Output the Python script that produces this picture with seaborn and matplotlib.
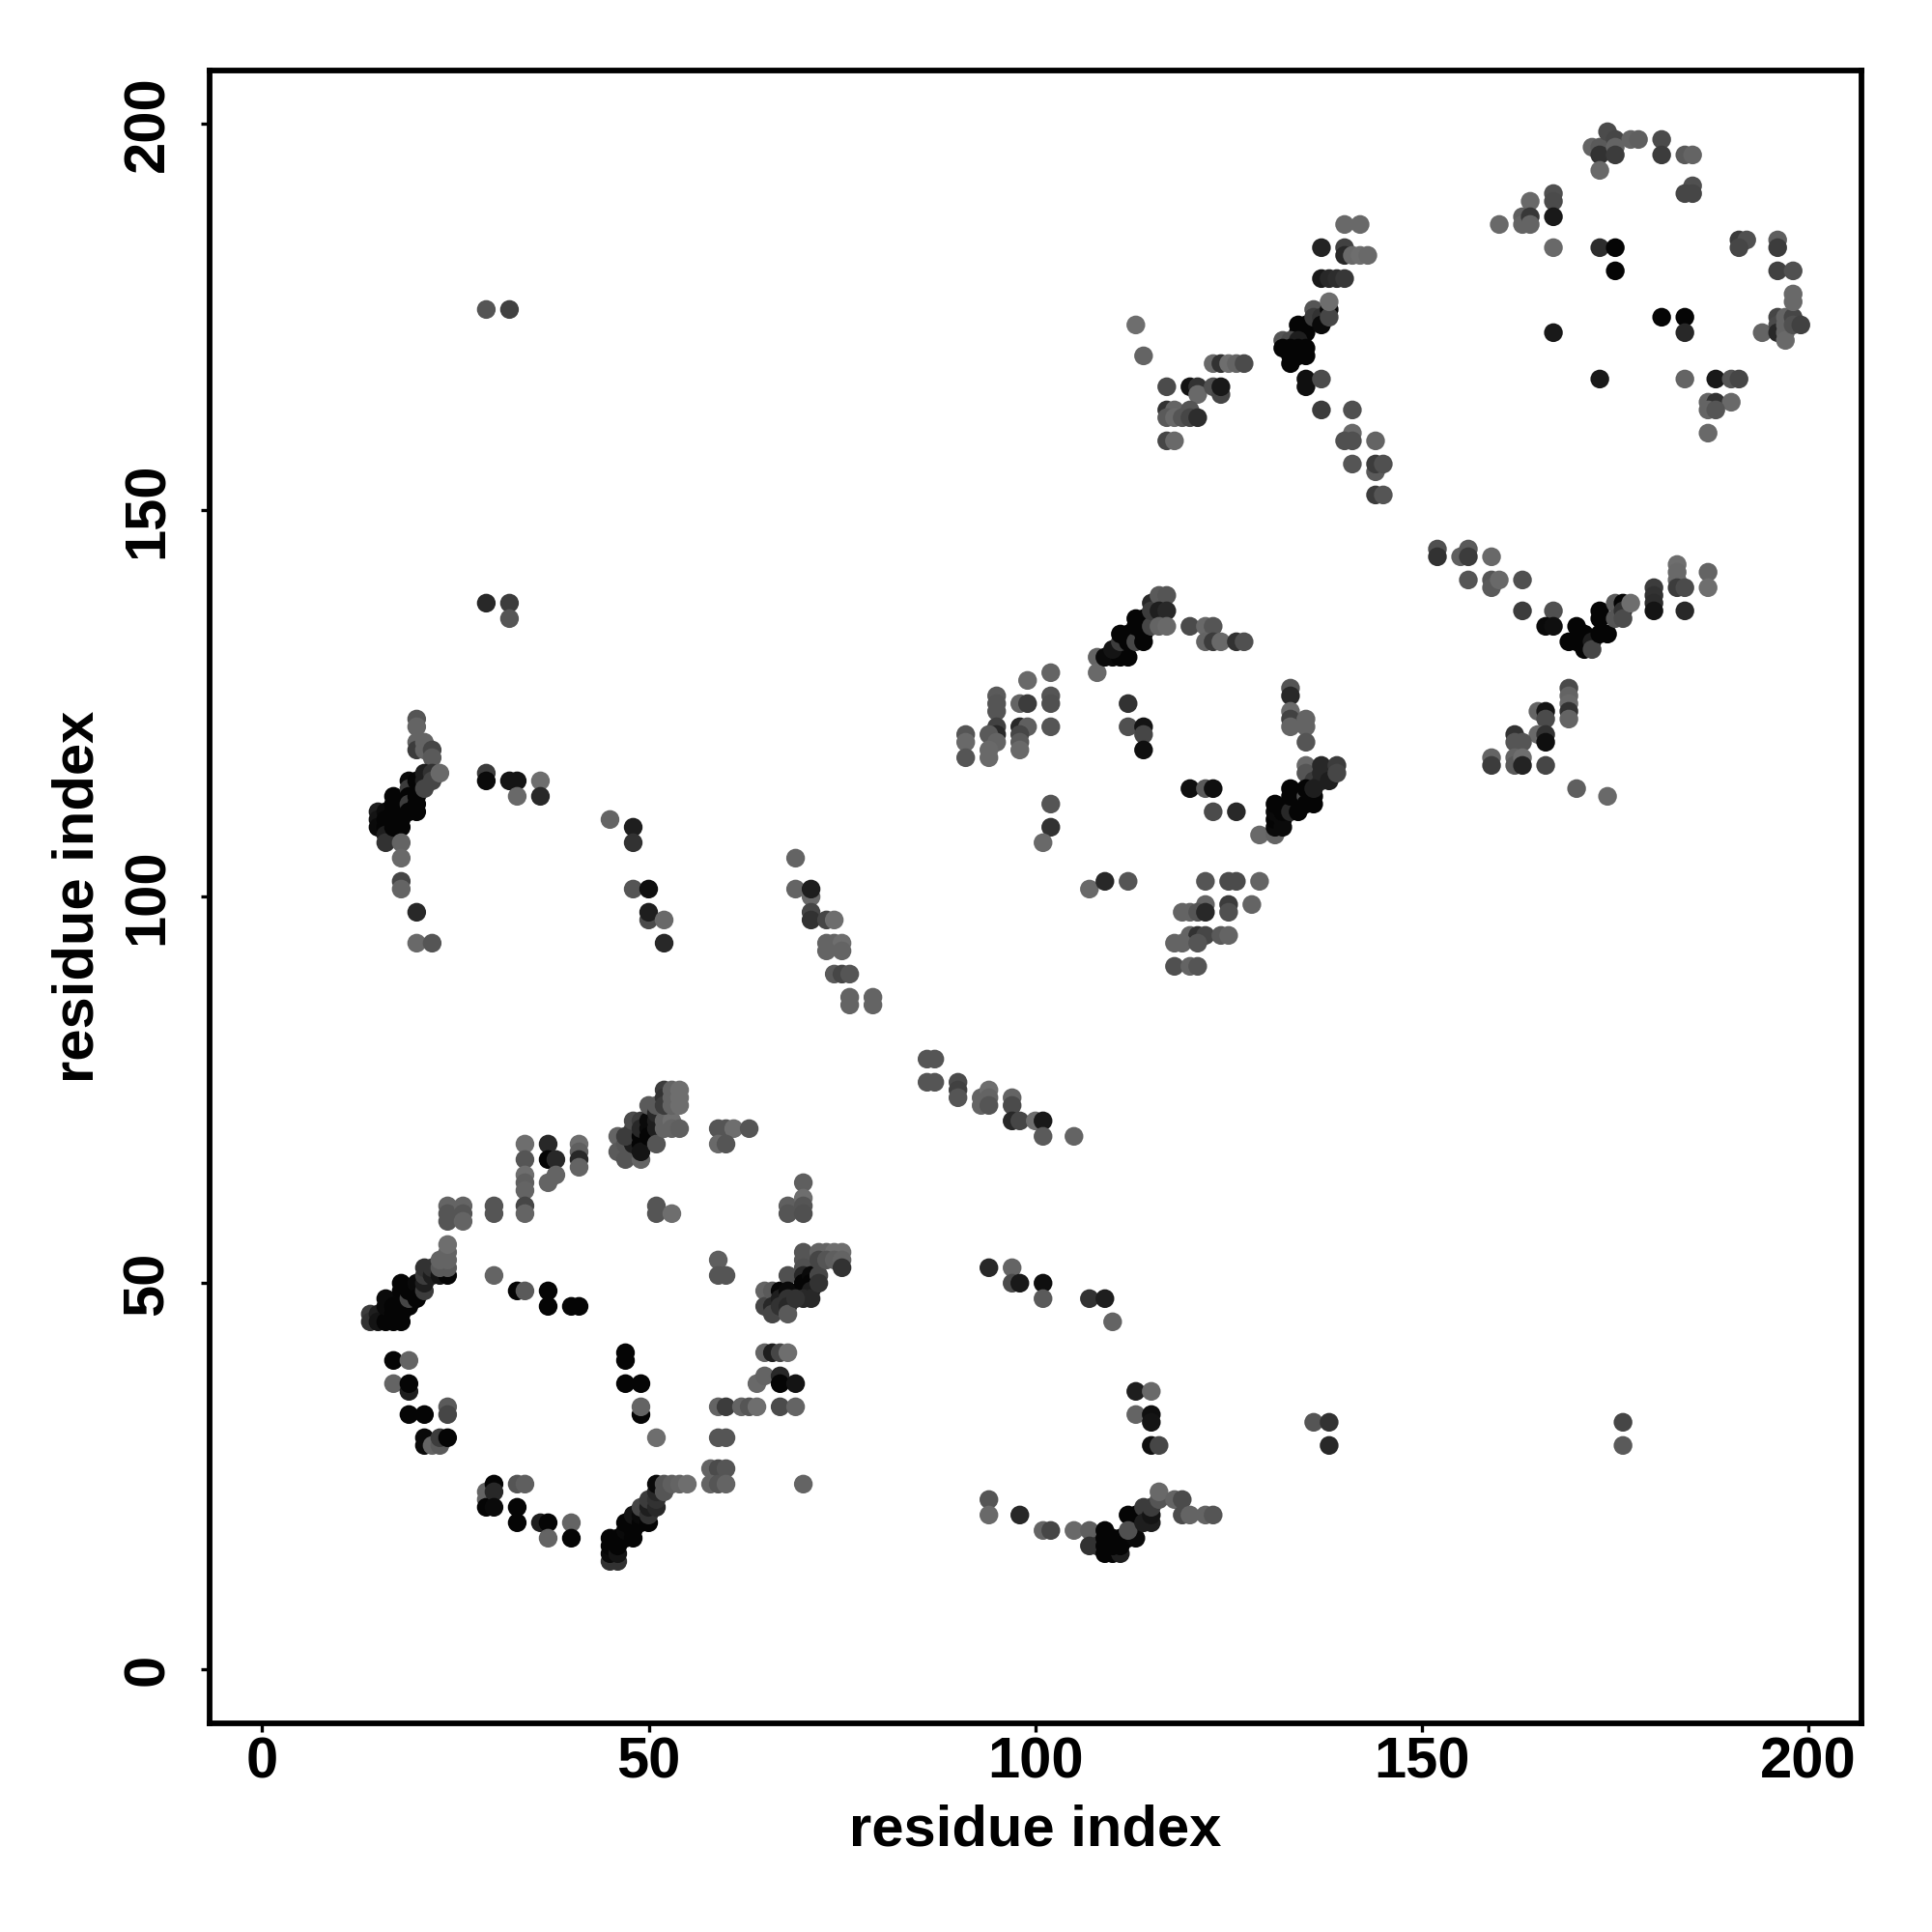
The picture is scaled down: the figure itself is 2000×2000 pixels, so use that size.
import numpy as np
import pandas as pd
import matplotlib
matplotlib.use("Agg")
import matplotlib.pyplot as plt
import seaborn as sns

# each contact: (residue i, residue j, score shown as grey level 0-255)
domain1_ring = [
(14,46,60),(14,45,50),(15,46,30),(15,45,20),(16,45,5),(17,45,5),(18,45,5),(16,47,10),(16,48,10),(17,47,5),(17,46,5),(18,47,5),(18,46,5),
(19,47,5),(18,49,5),(18,50,5),(19,48,70),(19,49,5),(20,49,5),(20,50,10),(20,48,5),(21,49,60),(21,50,30),(21,51,60),(21,52,50),(22,51,30),(22,52,50),(23,51,20),(24,51,5),(23,52,90),(24,52,90),(23,53,100),(24,53,100),(24,54,100),(24,55,110),
(24,60,100),(24,59,85),(24,58,85),(26,60,100),(26,59,85),(26,58,100),(30,60,85),(30,59,85),(34,68,110),(34,66,85),(34,64,110),(34,63,95),(34,62,100),(34,60,70),(34,59,100),
(37,68,40),(37,66,5),(38,66,40),(41,68,110),(41,67,95),(41,66,40),(41,65,100),(38,64,100),(37,63,100),
(46,69,100),(46,67,90),(47,68,85),(47,66,85),(48,70,70),(48,68,30),(47,69,60),(48,71,75),(49,69,5),(49,68,5),(49,71,60),(49,70,40),(49,66,100),(49,67,20),(50,71,10),(50,70,10),(50,69,5),(51,71,30),(51,70,30),(51,68,85),
(50,73,90),(51,72,40),(51,73,90),(52,71,100),(52,70,100),(53,71,110),(53,70,100),(54,70,95),(52,75,60),(52,74,50),(52,73,60),(53,75,100),(53,74,100),(53,73,100),(54,75,110),(54,74,110),(54,73,110),
(59,70,85),(60,70,85),(61,70,110),(63,70,85),(59,68,105),(60,68,85),(51,60,85),(51,59,85),(53,59,110),
(70,63,95),(68,60,95),(68,59,85),(70,61,110),(70,60,85),(70,59,80),
(30,51,100),(33,49,5),(34,49,90),(37,49,5),(37,47,5),(40,47,5),(41,47,5),
(59,53,95),(59,51,85),(60,51,85),
(65,49,100),(65,47,70),(66,49,90),(66,47,40),(66,46,70),(67,49,5),(67,48,30),(67,47,50),(68,51,80),(68,49,10),(68,48,50),(68,47,40),(68,46,90),
(70,54,85),(70,53,85),(70,52,80),(70,51,40),(70,50,5),(71,51,10),(71,50,5),(71,49,30),(71,48,40),(70,48,40),(69,48,50),(72,51,70),(72,50,50),(72,54,100),(73,54,100),(74,54,110),(75,54,110),(72,53,70),(73,53,85),(74,53,95),(75,53,100),(75,52,50),
(65,41,100),(66,41,30),(67,41,70),(68,41,110),(64,37,105),(65,38,100),(67,38,40),(67,37,5),(69,37,20),
(59,34,100),(60,34,60),(62,34,100),(63,34,85),(64,34,110),(67,34,75),(69,34,100),(59,30,85),(60,30,85),
(58,26,100),(59,26,75),(60,26,85),(58,24,100),(59,24,85),(60,24,100),(70,24,100),
(47,41,5),(47,40,5),(47,37,5),(49,37,5),(49,33,5),(49,34,100),(51,30,110),
(17,40,5),(19,40,100),(17,37,100),(19,36,30),(19,37,5),(24,34,90),(24,33,70),(19,33,5),(21,33,5),
(21,30,10),(21,29,10),(22,29,100),(23,29,90),(23,30,60),(24,30,5),
(29,23,100),(29,22,100),(29,21,5),(30,24,5),(30,23,40),(30,21,10),(33,24,85),(34,24,95),(33,21,5),(33,19,5),(36,19,30),(37,19,5),(40,19,100),(37,17,100),(40,17,5),
(45,14,50),(46,14,50),(45,15,10),(45,16,5),(45,17,5),(46,15,20),(46,16,5),(46,17,5),(47,17,5),(47,18,10),(47,19,5),(48,18,5),(48,17,5),(48,20,20),(49,19,5),(49,20,10),(49,21,70),(50,19,5),(50,20,50),(50,21,30),(50,22,60),(51,21,40),(51,22,50),(51,23,40),(51,24,10),(52,23,85),(52,24,85),(53,24,95),(54,24,100),(55,24,110),
]

domain1_links = [
(29,176,85),(32,176,65),(29,138,40),(32,138,60),(32,136,85),
(20,123,85),(20,122,100),(20,120,100),(20,119,60),(21,120,100),(21,119,100),(22,119,70),(22,118,90),
(15,111,30),(15,110,20),(15,109,10),(16,111,10),(16,110,5),(16,109,5),(16,108,30),(16,107,50),(17,113,5),(17,112,5),(17,111,5),(17,110,5),(17,109,5),(18,110,5),(18,109,5),(18,107,100),(18,105,105),
(19,115,10),(19,114,60),(19,113,5),(19,112,60),(19,111,5),(20,115,5),(20,113,5),(20,112,5),(20,111,5),(21,116,30),(21,115,30),(21,114,70),(22,116,50),(22,115,70),(23,116,105),
(18,102,70),(18,101,100),(20,98,40),(20,94,105),(22,94,85),
(29,116,60),(29,115,10),(32,115,20),(33,115,20),(33,113,105),(36,115,110),(36,113,40),
(45,110,100),(48,109,30),(48,107,50),(48,101,85),(50,101,15),(50,97,75),(50,98,30),(52,97,105),(52,94,40),
(69,105,100),(69,101,100),(71,100,105),(71,101,30),(71,98,70),(71,97,50),(73,97,70),(74,97,110),(73,94,100),(74,94,100),(75,94,110),(73,93,100),(75,93,100),(74,90,90),(75,90,70),(76,90,85),(76,87,100),(76,86,100),(79,87,100),(79,86,100),
(86,79,85),(87,79,85),(86,76,85),(87,76,85),(90,76,75),(90,75,65),(90,74,85),(93,74,100),(93,73,100),(94,75,110),(94,74,100),(94,73,85),(97,74,100),(97,73,75),(97,71,40),(98,71,70),(100,71,110),(101,71,25),(101,69,90),(105,69,100),
(94,52,40),(97,52,100),(97,50,75),(98,50,25),(101,50,15),(101,48,90),(107,48,50),(109,48,30),(110,45,100),
(113,36,30),(115,36,105),(113,33,100),(115,33,15),(115,32,20),(115,29,15),(116,29,70),(136,32,85),(138,32,50),(138,29,40),(176,32,70),(176,29,90),
(94,22,85),(94,20,105),(98,20,40),(101,18,100),(102,18,70),(105,18,105),(107,18,95),(107,16,50),(108,16,50),(109,18,5),(109,17,5),(109,16,5),(109,15,5),(110,15,5),(111,15,30),(110,17,5),(110,16,5),(111,16,5),(111,17,5),(112,17,5),(112,20,5),(113,20,5),(113,19,5),(113,17,10),(112,18,80),(114,21,60),(114,19,30),(115,19,30),(115,20,20),(115,21,60),(116,22,85),(116,23,105),(118,22,100),(119,22,75),(119,20,75),(120,20,100),(122,20,100),(123,20,85),
]

domain2_ring = [
(102,129,100),(99,128,105),(102,126,85),(102,125,80),(95,126,90),(95,125,85),(95,124,85),(98,125,100),(99,125,60),(102,122,85),(98,122,40),(99,122,95),(95,122,65),(95,121,40),(94,121,90),(95,120,100),(98,121,70),(98,120,90),(98,119,105),(94,119,105),(94,118,105),(91,121,85),(91,120,105),(91,118,85),
(102,112,85),(102,109,50),(101,107,105),(107,101,105),(109,102,40),(112,102,85),
(122,102,85),(125,102,75),(126,102,75),(129,102,100),(122,99,100),(125,99,60),(128,99,100),(119,98,100),(120,98,100),(121,98,85),(122,98,40),(125,98,80),
(120,95,100),(121,95,50),(122,95,70),(124,95,90),(125,95,100),(118,94,100),(119,94,100),(121,94,85),(118,91,80),(120,91,100),(121,91,85),
(108,131,100),(108,129,105),(109,131,10),(110,131,10),(111,131,5),(112,131,5),(110,132,20),(111,133,60),(111,134,5),(112,133,5),(112,134,5),(113,133,70),(114,133,5),(114,134,5),(113,136,5),(114,136,5),(113,135,5),(114,135,5),(115,135,70),
(115,138,40),(115,137,60),(116,139,90),(117,139,85),(116,137,30),(117,137,40),(116,135,100),(117,135,105),
(120,135,75),(122,135,105),(123,135,85),(122,133,100),(123,133,60),(124,133,105),(126,133,50),(127,133,80),
(112,125,50),(112,122,80),(114,122,20),(114,121,70),(114,119,15),
(133,127,85),(133,126,40),(133,124,105),(133,123,65),(133,122,100),(135,123,100),(135,122,100),(135,120,85),
(135,117,105),(135,116,85),(137,117,40),(136,115,60),(137,115,40),(137,116,40),(138,115,30),(139,117,60),(139,116,70),
(120,114,15),(122,114,90),(123,114,15),(123,111,75),(126,111,40),
(129,108,105),(131,108,100),(131,109,10),(131,110,5),(131,111,10),(131,112,5),(132,109,10),(132,110,10),(132,111,5),(133,111,40),(134,111,5),(133,114,5),(133,113,5),(134,113,5),(135,113,80),(135,114,5),(136,113,5),(136,112,5),(135,112,5),(136,114,30),
]

domain3_links = [
(113,174,110),(114,170,100),(123,169,105),(124,169,50),(125,169,110),(126,169,100),(127,169,75),
(117,166,75),(120,166,20),(121,166,50),(121,165,105),(123,166,80),(124,165,70),(124,166,25),
(117,163,50),(118,163,100),(120,163,85),(117,162,90),(118,162,105),(119,162,85),(120,162,70),(121,162,45),(117,159,70),(118,159,105),
(140,187,105),(142,187,105),(137,184,35),(140,184,65),(140,183,40),(141,183,105),(142,183,110),(143,183,105),(137,180,25),(138,180,40),(139,180,45),(140,180,55),
(135,174,5),(134,174,5),(134,173,5),(135,173,5),(136,176,85),(136,175,60),(137,175,50),(137,174,10),(138,176,10),(138,175,70),(138,177,110),
(132,172,85),(133,172,75),(134,172,30),(132,171,5),(133,171,5),(134,171,5),(135,171,5),(133,170,5),(134,170,5),(135,170,5),(133,169,5),
(135,167,15),(135,166,15),(137,167,75),(137,163,60),(141,163,80),(141,160,105),(140,159,80),(141,159,80),(144,159,100),(141,156,85),(144,155,90),(144,156,60),(145,156,80),(144,152,60),(145,152,85),
(152,145,80),(152,144,50),(155,144,95),(156,145,90),(156,144,60),(159,144,105),(156,141,85),(159,141,85),(159,140,90),(160,141,105),(163,141,80),(163,137,60),(167,137,80),(166,135,10),(167,135,15),
(169,133,5),(170,135,5),(170,133,5),(171,134,5),(171,132,5),(172,133,30),(172,132,70),(173,137,5),(173,136,5),(174,134,5),(173,134,5),
(175,138,90),(176,138,5),(175,136,85),(176,137,50),(176,136,75),(177,138,110),(180,140,60),(180,139,50),(180,138,45),(180,137,20),
(183,143,110),(183,142,105),(183,141,105),(183,140,60),(184,140,75),(184,137,40),(187,142,100),(187,140,110),
(169,127,75),(169,126,100),(169,125,105),(169,124,50),(169,123,100),(165,124,100),(166,124,20),(166,123,75),(165,121,105),(166,121,50),(166,120,15),(162,121,50),(162,120,85),(163,120,85),
(159,118,100),(159,117,60),(162,118,100),(162,117,90),(163,118,110),(163,117,35),(166,117,70),(170,114,95),(174,113,105),
]

domain3_ring = [
(160,187,105),(164,190,105),(163,188,95),(163,187,100),(164,188,55),(164,187,100),(167,191,80),(167,190,75),(167,188,25),(167,184,105),
(173,184,45),(175,184,5),(175,181,5),(167,173,25),(181,175,5),(184,175,5),(184,173,40),
(194,173,100),(196,175,70),(196,174,75),(196,173,40),(197,175,100),(197,174,100),(197,173,100),(197,172,105),(198,175,70),(198,174,80),(199,174,65),
(198,178,105),(198,177,105),(196,185,95),(196,184,60),(196,181,65),(198,181,80),(191,185,60),(192,185,80),(191,184,70),
(172,197,100),(173,197,90),(173,196,50),(174,199,75),(175,198,70),(175,197,100),(175,196,60),(173,194,105),(177,198,100),(178,198,95),(181,198,75),(181,196,60),(184,196,90),(185,196,100),
(185,192,80),(184,191,70),(185,191,70),(184,167,100),(188,167,25),(190,167,85),(191,167,70),(173,167,25),
(187,164,100),(188,164,50),(190,164,105),(187,163,100),(188,163,85),(187,160,105),
]

frame = pd.DataFrame(
    domain1_ring + domain1_links + domain2_ring + domain3_links + domain3_ring,
    columns=["i", "j", "score"],
)

sns.set_theme(style="white")
plt.rcParams["font.family"] = ["Liberation Sans", "DejaVu Sans"]
plt.rcParams["font.weight"] = "bold"

fig = plt.figure(figsize=(20, 20), dpi=100, facecolor="white")
ax = fig.add_axes([216.5/2000, 1 - 1784/2000, (1927 - 216.5)/2000, (1784 - 72.7)/2000])

sns.scatterplot(data=frame, x="i", y="j", hue="score", palette="gray", hue_norm=(0, 255),
                s=195, linewidth=0, legend=False, ax=ax)

ax.set_xlim(-6.84, 206.84)
ax.set_ylim(-6.96, 206.96)
ax.set_xticks([0, 50, 100, 150, 200])
ax.set_yticks([0, 50, 100, 150, 200])
ax.set_xlabel("residue index", fontsize=43, fontweight="bold", labelpad=11, color="black")
ax.set_ylabel("residue index", fontsize=43, fontweight="bold", labelpad=12.6, color="black")
ax.tick_params(axis="both", which="major", length=6.5, width=2.4, color="black",
               labelsize=43, left=True, bottom=True, labelcolor="black")
ax.tick_params(axis="x", pad=3)
ax.tick_params(axis="y", pad=19)
for lab in ax.get_yticklabels():
    lab.set_rotation(90)
    lab.set_va("center")
for lab in ax.get_xticklabels() + ax.get_yticklabels():
    lab.set_fontweight("bold")
for sp in ax.spines.values():
    sp.set_visible(True)
    sp.set_color("black")
    sp.set_linewidth(4.2)

fig.savefig("out.png", dpi=100, facecolor="white")
